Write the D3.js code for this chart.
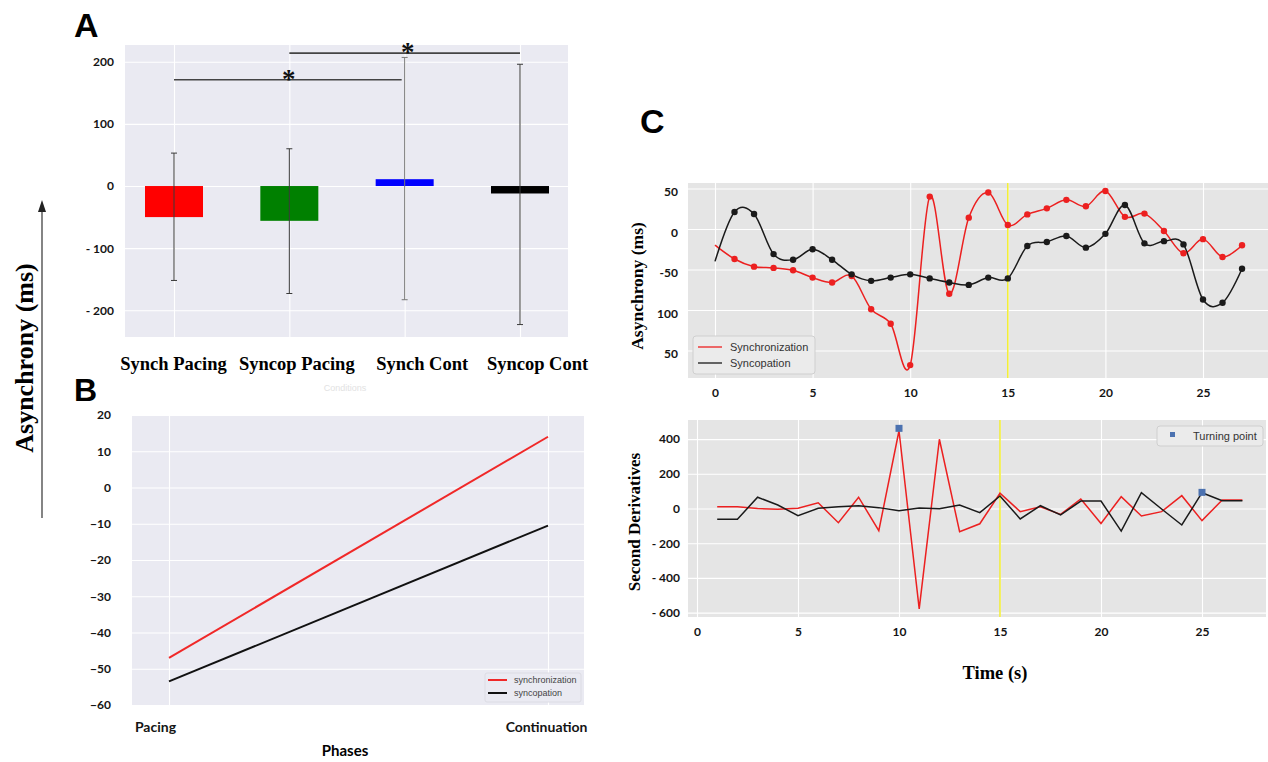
<!DOCTYPE html>
<html><head><meta charset="utf-8">
<script src="https://cdn.jsdelivr.net/npm/d3@7"></script>
<style>body{margin:0;background:#fff}</style>
</head><body>
<svg id="c" width="1268" height="762" xmlns="http://www.w3.org/2000/svg"></svg>
<script>
// ---------- DATA ----------
// Panel A
const categoriesA = ["Synch Pacing", "Syncop Pacing", "Synch Cont", "Syncop Cont"];
const meanA = [-50, -56, 11, -12];
const errHighA = [53, 60, 207, 196];
const errLowA = [-152, -173, -183, -223];
const ticksA = [-200, -100, 0, 100, 200];
const tickLabelsA = ["- 200", "- 100", "0", "100", "200"];
const sigPairsA = [[0, 2, 171], [1, 3, 214]];
// Panel B
const phasesB = ["Pacing", "Continuation"];
const synchB = [-47, 14];
const syncopB = [-53.5, -10.5];
const ticksB = [-60, -50, -40, -30, -20, -10, 0, 10, 20];
// Panel C (top)
const timeTop = [0,1,2,3,4,5,6,7,8,9,10,11,12,13,14,15,16,17,18,19,20,21,22,23,24,25,26,27];
const synchTop = [-20,-37,-46.5,-48,-51,-60,-66,-58,-99,-117,-168,40,-80,14,45,5,18,25.5,36,28,47,15,19,-2.5,-30,-12.5,-34.5,-20];
const syncopTop = [-40,21,18.5,-31,-38,-25,-38,-56,-64,-60,-56,-61,-66,-69,-60,-61,-21,-16,-8.6,-23,-6,29.6,-17.7,-15,-19,-87,-91,-49];
const ticksTopY = [50, 0, -50, -100, -150];
const tickLabelsTopY = ["50", "0", "-50", "100", "50"];
const ticksTopX = [0, 5, 10, 15, 20, 25];
// Panel C (bottom)
const timeBot = [1,2,3,4,5,6,7,8,9,10,11,12,13,14,15,16,17,18,19,20,21,22,23,24,25,26,27];
const synchBot = [10,10,0,-5,2,33,-82,65,-128,448,-579,399,-134,-88,88,-18,10,-34,55,-86,68,-43,-18,74,-70,49,49];
const syncopBot = [-62,-62,65,20,-41,1,10,16,5,-13,3,-1,20,-24,72,-60,16,-37,43,43,-130,91,-3,-95,91,45,45];
const turnX = [10, 25];
const turnY = [462, 93];
const ticksBotY = [400, 200, 0, -200, -400, -600];
const tickLabelsBotY = ["400", "200", "0", "- 200", "- 400", "- 600"];
const ticksBotX = [0, 5, 10, 15, 20, 25];
const markerX = 15;

// ---------- STYLE ----------
const SANS = "Lato, 'Liberation Sans', sans-serif";
const SERIF = "'Liberation Serif', 'DejaVu Serif', serif";
const ARIAL = "'Liberation Sans', Arial, sans-serif";
const svg = d3.select("#c");
svg.append("rect").attr("width", 1268).attr("height", 762).attr("fill", "#fff");

function styleAxis(g, fs, font) {
  g.select(".domain").remove();
  g.selectAll(".tick line").attr("stroke", "#fff").attr("stroke-width", 1.1);
  g.selectAll(".tick text").attr("font-family", font || SANS).attr("font-weight", 700)
    .attr("font-size", fs).attr("fill", "#141414");
}

// ---------- PANEL A ----------
{
  const L = 125, R = 568, T = 45, B = 337;
  const y = d3.scaleLinear().domain([-243, 227]).range([B, T]);
  const x = d3.scalePoint().domain(categoriesA).range([174, 520]);
  svg.append("rect").attr("x", L).attr("y", T).attr("width", R - L).attr("height", B - T).attr("fill", "#eaeaf2");
  const gy = svg.append("g").attr("transform", `translate(${L},0)`)
    .call(d3.axisLeft(y).tickValues(ticksA).tickSize(-(R - L)).tickPadding(11)
      .tickFormat((d, i) => tickLabelsA[i]));
  styleAxis(gy, 12);
  const gx = svg.append("g").attr("transform", `translate(0,${B})`)
    .call(d3.axisBottom(x).tickSize(-(B - T)).tickPadding(20));
  styleAxis(gx, 18.5, SERIF);
  const labelShiftA = [-1, 7, 17, 17];
  gx.selectAll(".tick text").attr("fill", "#000").attr("dx", (d, i) => labelShiftA[i]);
  const colorsA = ["#ff0000", "#008000", "#0000ff", "#000000"];
  const bw = 58;
  svg.append("g").selectAll("rect").data(categoriesA).join("rect")
    .attr("x", d => x(d) - bw / 2)
    .attr("y", (d, i) => Math.min(y(0), y(meanA[i])))
    .attr("width", bw)
    .attr("height", (d, i) => Math.abs(y(meanA[i]) - y(0)))
    .attr("fill", (d, i) => colorsA[i]);
  const eg = svg.append("g").attr("stroke", "#3a3a3a").attr("stroke-width", 1);
  categoriesA.forEach((c, i) => {
    const cx = x(c);
    const col = i === 2 ? "#777" : "#3a3a3a";
    eg.append("line").attr("x1", cx).attr("x2", cx).attr("y1", y(errLowA[i])).attr("y2", y(errHighA[i])).attr("stroke", col);
    [errLowA[i], errHighA[i]].forEach(v => eg.append("line").attr("x1", cx - 3).attr("x2", cx + 3)
      .attr("y1", y(v)).attr("y2", y(v)).attr("stroke", col));
  });
  sigPairsA.forEach(([a, b, v]) => {
    const x1 = x(categoriesA[a]), x2 = x(categoriesA[b]) - (b === 2 ? 3 : 0);
    svg.append("line").attr("x1", x1).attr("x2", x2).attr("y1", y(v)).attr("y2", y(v))
      .attr("stroke", "#444").attr("stroke-width", 1.6);
    const ax = b === 2 ? (x1 + x2) / 2 + 1 : x(categoriesA[2]) + 3;
    svg.append("text").attr("x", ax).attr("y", y(v) + 8).attr("text-anchor", "middle")
      .attr("font-family", SERIF).attr("font-weight", 700).attr("font-size", 27).attr("fill", "#111").text("*");
  });
  svg.append("text").attr("x", 74).attr("y", 37).attr("font-family", ARIAL).attr("font-weight", 700)
    .attr("font-size", 34).text("A");
  svg.append("text").attr("x", 345).attr("y", 391).attr("text-anchor", "middle").attr("font-family", ARIAL)
    .attr("font-size", 9).attr("fill", "#e2e2e2").text("Conditions");
}

// ---------- PANEL B ----------
{
  const L = 132, R = 584, T = 415, B = 705;
  const y = d3.scaleLinear().domain([-60, 20]).range([B, T]);
  const x = d3.scalePoint().domain(phasesB).range([169, 548]);
  svg.append("rect").attr("x", L).attr("y", T).attr("width", R - L).attr("height", B - T).attr("fill", "#eaeaf2");
  const gy = svg.append("g").attr("transform", `translate(${L},0)`)
    .call(d3.axisLeft(y).tickValues(ticksB).tickSize(-(R - L)).tickPadding(21).tickFormat(d3.format("d")));
  styleAxis(gy, 12);
  const gx = svg.append("g").attr("transform", `translate(0,${B})`)
    .call(d3.axisBottom(x).tickSize(-(B - T)).tickPadding(17));
  styleAxis(gx, 14);
  gx.selectAll(".tick text").attr("dx", (d, i) => i === 0 ? -14 : -2);
  const line = d3.line().x((d, i) => x(phasesB[i])).y(d => y(d));
  svg.append("path").attr("d", line(synchB)).attr("fill", "none").attr("stroke", "#f02828").attr("stroke-width", 2);
  svg.append("path").attr("d", line(syncopB)).attr("fill", "none").attr("stroke", "#111").attr("stroke-width", 2);
  // legend
  const lg = svg.append("g");
  lg.append("rect").attr("x", 485).attr("y", 673).attr("width", 96).attr("height", 29).attr("rx", 2)
    .attr("fill", "#eaeaf2").attr("stroke", "#dcdce4");
  [["synchronization", "#f02828"], ["syncopation", "#111"]].forEach(([t, c], i) => {
    const yy = 680 + i * 13;
    lg.append("line").attr("x1", 488).attr("x2", 507).attr("y1", yy).attr("y2", yy).attr("stroke", c).attr("stroke-width", 2);
    lg.append("text").attr("x", 514).attr("y", yy + 3).attr("font-family", ARIAL).attr("font-size", 9)
      .attr("fill", "#444").text(t);
  });
  svg.append("text").attr("x", 345).attr("y", 756).attr("text-anchor", "middle").attr("font-family", SANS)
    .attr("font-weight", 700).attr("font-size", 15).text("Phases");
  svg.append("text").attr("x", 74).attr("y", 401).attr("font-family", ARIAL).attr("font-weight", 700)
    .attr("font-size", 32).text("B");
}

// ---------- PANEL C TOP ----------
{
  const L = 688, R = 1268, T = 183, B = 378;
  const x = d3.scaleLinear().domain([(L - 715) / 19.52, (R - 715) / 19.52]).range([L, R]);
  const y = d3.scaleLinear().domain([-(B - 229) / 0.81, (229 - T) / 0.81]).range([B, T]);
  svg.append("rect").attr("x", L).attr("y", T).attr("width", R - L).attr("height", B - T).attr("fill", "#e5e5e5");
  const gy = svg.append("g").attr("transform", `translate(${L},0)`)
    .call(d3.axisLeft(y).tickValues(ticksTopY).tickSize(-(R - L)).tickPadding(10)
      .tickFormat((d, i) => tickLabelsTopY[i]));
  styleAxis(gy, 12);
  gy.selectAll(".tick text").attr("dy", "0.62em");
  const gx = svg.append("g").attr("transform", `translate(0,${B})`)
    .call(d3.axisBottom(x).tickValues(ticksTopX).tickSize(-(B - T)).tickPadding(10));
  styleAxis(gx, 12);
  svg.append("line").attr("x1", x(markerX)).attr("x2", x(markerX)).attr("y1", T).attr("y2", B)
    .attr("stroke", "#f2ee3a").attr("stroke-width", 1.6);
  const line = d3.line().x((d, i) => x(timeTop[i])).y(d => y(d)).curve(d3.curveCardinal.tension(0));
  const series = [[synchTop, "#ec2020"], [syncopTop, "#1a1a1a"]];
  series.forEach(([s, c]) => {
    svg.append("path").attr("d", line(s)).attr("fill", "none").attr("stroke", c).attr("stroke-width", 1.5);
  });
  series.forEach(([s, c]) => {
    svg.append("g").selectAll("circle").data(s.slice(1)).join("circle")
      .attr("cx", (d, i) => x(timeTop[i + 1])).attr("cy", d => y(d)).attr("r", 3.2).attr("fill", c);
  });
  const lg = svg.append("g");
  lg.append("rect").attr("x", 693).attr("y", 336).attr("width", 122).attr("height", 38).attr("rx", 3)
    .attr("fill", "#ebebeb").attr("stroke", "#cfcfcf");
  [["Synchronization", "#ec2020"], ["Syncopation", "#1a1a1a"]].forEach(([t, c], i) => {
    const yy = 347 + i * 16;
    lg.append("line").attr("x1", 698).attr("x2", 722).attr("y1", yy).attr("y2", yy).attr("stroke", c).attr("stroke-width", 1.3);
    lg.append("text").attr("x", 730).attr("y", yy + 4).attr("font-family", ARIAL).attr("font-size", 11)
      .attr("fill", "#333").text(t);
  });
  svg.append("text").attr("transform", "translate(643,286) rotate(-90)").attr("text-anchor", "middle")
    .attr("font-family", SERIF).attr("font-weight", 700).attr("font-size", 17.5).text("Asynchrony (ms)");
  svg.append("text").attr("x", 640).attr("y", 133).attr("font-family", ARIAL).attr("font-weight", 700)
    .attr("font-size", 34).text("C");
}

// ---------- PANEL C BOTTOM ----------
{
  const L = 688, R = 1266, T = 420, B = 617;
  const x = d3.scaleLinear().domain([(L - 697) / 20.2, (R - 697) / 20.2]).range([L, R]);
  const y = d3.scaleLinear().domain([-(B - 508.5) / 0.1735, (508.5 - T) / 0.1735]).range([B, T]);
  svg.append("rect").attr("x", L).attr("y", T).attr("width", R - L).attr("height", B - T).attr("fill", "#e5e5e5");
  const gy = svg.append("g").attr("transform", `translate(${L},0)`)
    .call(d3.axisLeft(y).tickValues(ticksBotY).tickSize(-(R - L)).tickPadding(8)
      .tickFormat((d, i) => tickLabelsBotY[i]));
  styleAxis(gy, 12);
  const gx = svg.append("g").attr("transform", `translate(0,${B})`)
    .call(d3.axisBottom(x).tickValues(ticksBotX).tickSize(-(B - T)).tickPadding(10));
  styleAxis(gx, 12);
  svg.append("line").attr("x1", x(markerX)).attr("x2", x(markerX)).attr("y1", T).attr("y2", B)
    .attr("stroke", "#f2ee3a").attr("stroke-width", 1.6);
  const line = d3.line().x((d, i) => x(timeBot[i])).y(d => y(d));
  svg.append("path").attr("d", line(synchBot)).attr("fill", "none").attr("stroke", "#ec2020").attr("stroke-width", 1.5);
  svg.append("path").attr("d", line(syncopBot)).attr("fill", "none").attr("stroke", "#1a1a1a").attr("stroke-width", 1.5);
  svg.append("g").selectAll("rect").data(turnX).join("rect")
    .attr("x", d => x(d) - 3.5).attr("y", (d, i) => y(turnY[i]) - 3.5).attr("width", 7).attr("height", 7)
    .attr("fill", "#4c72b0");
  const lg = svg.append("g");
  lg.append("rect").attr("x", 1157).attr("y", 426).attr("width", 106).attr("height", 20).attr("rx", 3)
    .attr("fill", "#ebebeb").attr("stroke", "#cfcfcf");
  lg.append("rect").attr("x", 1170).attr("y", 432).attr("width", 5).attr("height", 5).attr("fill", "#4c72b0");
  lg.append("text").attr("x", 1193).attr("y", 440).attr("font-family", ARIAL).attr("font-size", 11)
    .attr("fill", "#333").text("Turning point");
  svg.append("text").attr("transform", "translate(640,522) rotate(-90)").attr("text-anchor", "middle")
    .attr("font-family", SERIF).attr("font-weight", 700).attr("font-size", 17).text("Second Derivatives");
  svg.append("text").attr("x", 995).attr("y", 679).attr("text-anchor", "middle")
    .attr("font-family", SERIF).attr("font-weight", 700).attr("font-size", 18.5).text("Time (s)");
}

// ---------- SHARED Y LABEL ----------
svg.append("text").attr("transform", "translate(33,358) rotate(-90)").attr("text-anchor", "middle")
  .attr("font-family", SERIF).attr("font-weight", 700).attr("font-size", 26).text("Asynchrony (ms)");
svg.append("line").attr("x1", 42).attr("x2", 42).attr("y1", 518).attr("y2", 210).attr("stroke", "#333").attr("stroke-width", 1.2);
svg.append("path").attr("d", "M42,200 L38,212 L46,212 Z").attr("fill", "#222");
</script>
</body></html>
